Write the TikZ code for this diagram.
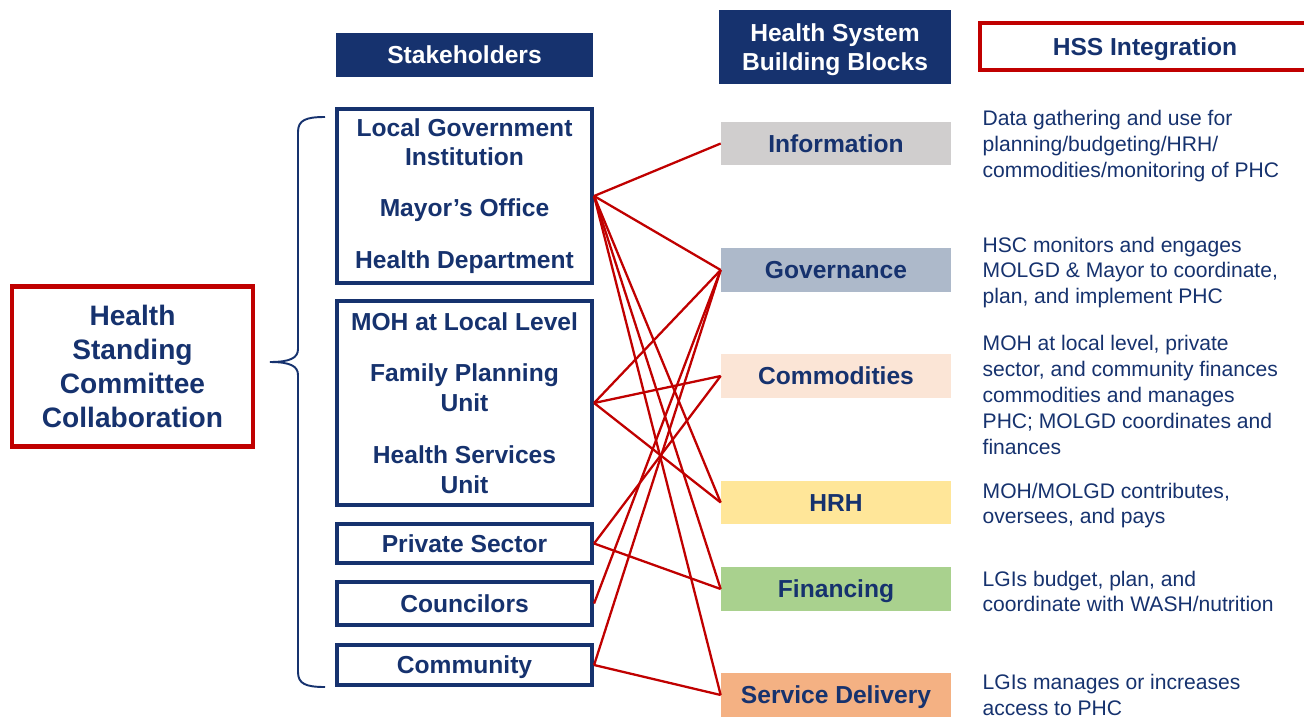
\documentclass[tikz,border=0pt]{standalone}
\usepackage{fontspec}
\setmainfont{Liberation Sans}
\usetikzlibrary{positioning}
\definecolor{navy}{RGB}{22,50,110}
\definecolor{hssred}{RGB}{192,0,0}
\definecolor{infogray}{RGB}{208,206,206}
\definecolor{govblue}{RGB}{173,185,202}
\definecolor{compeach}{RGB}{251,229,214}
\definecolor{hrhyellow}{RGB}{255,230,153}
\definecolor{fingreen}{RGB}{169,209,142}
\definecolor{sdorange}{RGB}{244,177,131}
\newcommand{\hssbold}{\bfseries\fontsize{14}{17}\selectfont}
\newcommand{\hssnote}{\fontsize{12}{14.7}\selectfont}
\begin{document}
\begin{tikzpicture}[x=0.02cm,y=-0.02cm,
  oneline/.style={text height=10.2pt,text depth=0pt},
  sbox/.style={draw=navy,line width=2.4pt,fill=white,text=navy,font=\hssbold,align=center,minimum width=5.1cm,inner sep=0pt},
  bblock/.style={oneline,minimum width=4.6cm,minimum height=0.87cm,text=navy,font=\hssbold,inner sep=0pt},
  hssnote/.style={text=navy,font=\hssnote,align=left,inner sep=0pt},
  redline/.style={hssred,line width=1.3pt}]
\useasboundingbox (0,0) rectangle (1304,717);

% headers
\node[oneline,fill=navy,text=white,font=\hssbold,minimum width=5.14cm,minimum height=0.88cm] (sh) at (464.5,55) {Stakeholders};
\node[fill=navy,text=white,font=\hssbold,minimum width=4.64cm,minimum height=1.48cm] (hb) at (835,47) {\raisebox{-1.7pt}[\height][\depth]{\begin{tabular}{@{}c@{}}Health System\\Building Blocks\end{tabular}}};
\node[oneline,draw=hssred,line width=2.4pt,text=navy,font=\hssbold,minimum width=6.6cm,minimum height=0.94cm] (hss) at (1145,46.5) {HSS Integration};

% committee box and brace
\node[draw=hssred,line width=2.4pt,text=navy,font=\bfseries\fontsize{16}{19.3}\selectfont,align=center,minimum width=4.82cm,minimum height=3.2cm] (hsc) at (132.5,366.5) {Health\\Standing\\Committee\\Collaboration};
\draw[navy,line width=1.1pt] (325,117) .. controls (306,117) and (298,120) .. (298,132) -- (298,349)
  .. controls (298,358) and (290,362) .. (270,362) .. controls (290,362) and (298,366) .. (298,375)
  -- (298,672) .. controls (298,684) and (306,687) .. (325,687);

% stakeholders
\node[sbox,minimum height=3.48cm] (lgi) at (464.5,196) {Local Government\\Institution\\[12pt]Mayor’s Office\\[12.5pt]Health Department};
\node[sbox,minimum height=4.08cm] (moh) at (464.5,403) {MOH at Local Level\\[12.5pt]Family Planning\\Unit\\[12.5pt]Health Services\\Unit};
\node[sbox,oneline,minimum height=0.78cm] (ps) at (464.5,543.5) {Private Sector};
\node[sbox,oneline,minimum height=0.86cm] (cou) at (464.5,603.5) {Councilors};
\node[sbox,oneline,minimum height=0.8cm] (com) at (464.5,665) {Community};

% building blocks
\node[bblock,fill=infogray] (inf) at (836,143.5) {Information};
\node[bblock,fill=govblue] (gov) at (836,270) {Governance};
\node[bblock,fill=compeach] (cmd) at (836,376) {Commodities};
\node[bblock,fill=hrhyellow] (hrh) at (836,502.5) {HRH};
\node[bblock,fill=fingreen] (fin) at (836,589) {Financing};
\node[bblock,fill=sdorange] (sd) at (836,695) {Service Delivery};

% integration notes
\node[hssnote,right=0.62cm of inf,yshift=-0.05cm] (infn) {Data gathering and use for\\planning/budgeting/HRH/\\commodities/monitoring of PHC};
\node[hssnote,right=0.62cm of gov,yshift=-0.05cm] (govn) {HSC monitors and engages\\MOLGD \& Mayor to coordinate,\\plan, and implement PHC};
\node[hssnote,right=0.62cm of cmd,yshift=-0.38cm] (cmdn) {MOH at local level, private\\sector, and community finances\\commodities and manages\\PHC; MOLGD coordinates and\\finances};
\node[hssnote,right=0.62cm of hrh,yshift=-0.06cm] (hrhn) {MOH/MOLGD contributes,\\oversees, and pays};
\node[hssnote,right=0.62cm of fin,yshift=-0.05cm] (finn) {LGIs budget, plan, and\\coordinate with WASH/nutrition};
\node[hssnote,right=0.62cm of sd] (sdn) {LGIs manages or increases\\access to PHC};

% links
\draw[redline] (lgi.east) -- (inf.west);
\draw[redline] (lgi.east) -- (gov.west);
\draw[redline] (lgi.east) -- (hrh.west);
\draw[redline] (lgi.east) -- (fin.west);
\draw[redline] (lgi.east) -- (sd.west);
\draw[redline] (moh.east) -- (gov.west);
\draw[redline] (moh.east) -- (cmd.west);
\draw[redline] (moh.east) -- (hrh.west);
\draw[redline] (ps.east) -- (cmd.west);
\draw[redline] (ps.east) -- (fin.west);
\draw[redline] (cou.east) -- (gov.west);
\draw[redline] (com.east) -- (gov.west);
\draw[redline] (com.east) -- (sd.west);
\end{tikzpicture}
\end{document}
